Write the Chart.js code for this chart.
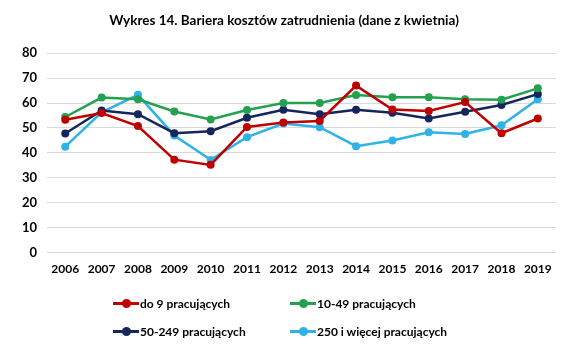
<!DOCTYPE html>
<html>
<head>
<meta charset="utf-8">
<script src="https://cdn.jsdelivr.net/npm/chart.js"></script>
<style>
  body { margin: 0; background: #fff; }
  #wrap { position: relative; width: 564px; height: 364px; }
  #legend {
    position: absolute; left: 113px; top: 294px;
    display: grid; grid-template-columns: 177px 200px; row-gap: 10px;
    font: bold 12px Lato, "Open Sans", sans-serif; color: #000;
  }
  .item { display: flex; align-items: center; height: 18px; }
  .sw { position: relative; width: 26px; height: 18px; margin-right: 1px; }
  .sw .ln { position: absolute; left: 0; top: 8px; width: 26px; height: 3px; }
  .sw .dot { position: absolute; left: 9px; top: 5px; width: 9px; height: 9px; border-radius: 50%; }
</style>
</head>
<body>
<div id="wrap">
  <canvas id="chart" width="564" height="364"></canvas>
  <div id="legend"></div>
</div>
<script>
// Data
const years = ['2006', '2007', '2008', '2009', '2010', '2011', '2012',
               '2013', '2014', '2015', '2016', '2017', '2018', '2019'];
const upTo9 = [53.3, 56, 50.8, 37.3, 35.2, 50.4, 52.2, 52.8, 67, 57.4, 56.8, 60.4, 47.9, 53.8];
const from10to49 = [54.4, 62.2, 61.5, 56.6, 53.4, 57.2, 60, 60, 63.2, 62.3, 62.3, 61.5, 61.3, 65.9];
const from50to249 = [47.8, 57, 55.5, 47.9, 48.7, 54.1, 57.3, 55.5, 57.3, 56.1, 53.8, 56.5, 59.2, 63.6];
const from250 = [42.5, 56.3, 63.3, 47, 37.2, 46.3, 51.8, 50.3, 42.7, 45, 48.3, 47.6, 51.1, 61.5];
const seriesNames = ['do 9 pracujących', '10-49 pracujących', '50-249 pracujących', '250 i więcej pracujących'];
const seriesColors = ['#c00000', '#23a14f', '#15265c', '#2fb3e6'];

const font = 'Lato, "Open Sans", sans-serif';

function makeSet(i, values) {
  return {
    label: seriesNames[i],
    data: values,
    borderColor: seriesColors[i],
    backgroundColor: seriesColors[i],
    borderWidth: 2.5,
    pointRadius: 4,
    pointBorderWidth: 0,
    tension: 0
  };
}

const chart = new Chart(document.getElementById('chart').getContext('2d'), {
  type: 'line',
  data: {
    labels: years,
    datasets: [
      makeSet(0, upTo9),
      makeSet(1, from10to49),
      makeSet(2, from50to249),
      makeSet(3, from250)
    ]
  },
  options: {
    responsive: false,
    animation: false,
    layout: { padding: { left: 12, right: 8, top: 0, bottom: 87 } },
    plugins: {
      legend: { display: false },
      tooltip: { enabled: false },
      title: {
        display: true,
        text: 'Wykres 14. Bariera kosztów zatrudnienia (dane z kwietnia)',
        color: '#000',
        font: { family: font, size: 13.5, weight: 'bold' },
        padding: { top: 13, bottom: 24 }
      }
    },
    scales: {
      x: {
        offset: true,
        grid: { display: false },
        border: { display: false },
        ticks: { color: '#000', font: { family: font, size: 12, weight: 'bold' }, maxRotation: 0, padding: 1 }
      },
      y: {
        min: 0,
        max: 80,
        ticks: { stepSize: 10, color: '#000', font: { family: font, size: 13, weight: 'bold' }, padding: 10 },
        grid: { color: '#d9d9d9', drawTicks: false },
        border: { display: false }
      }
    }
  }
});

// Two-column legend like the original
const legend = document.getElementById('legend');
chart.data.datasets.forEach(ds => {
  const item = document.createElement('div');
  item.className = 'item';
  item.innerHTML = '<span class="sw"><span class="ln" style="background:' + ds.borderColor +
    '"></span><span class="dot" style="background:' + ds.borderColor + '"></span></span>' + ds.label;
  legend.appendChild(item);
});
</script>
</body>
</html>
